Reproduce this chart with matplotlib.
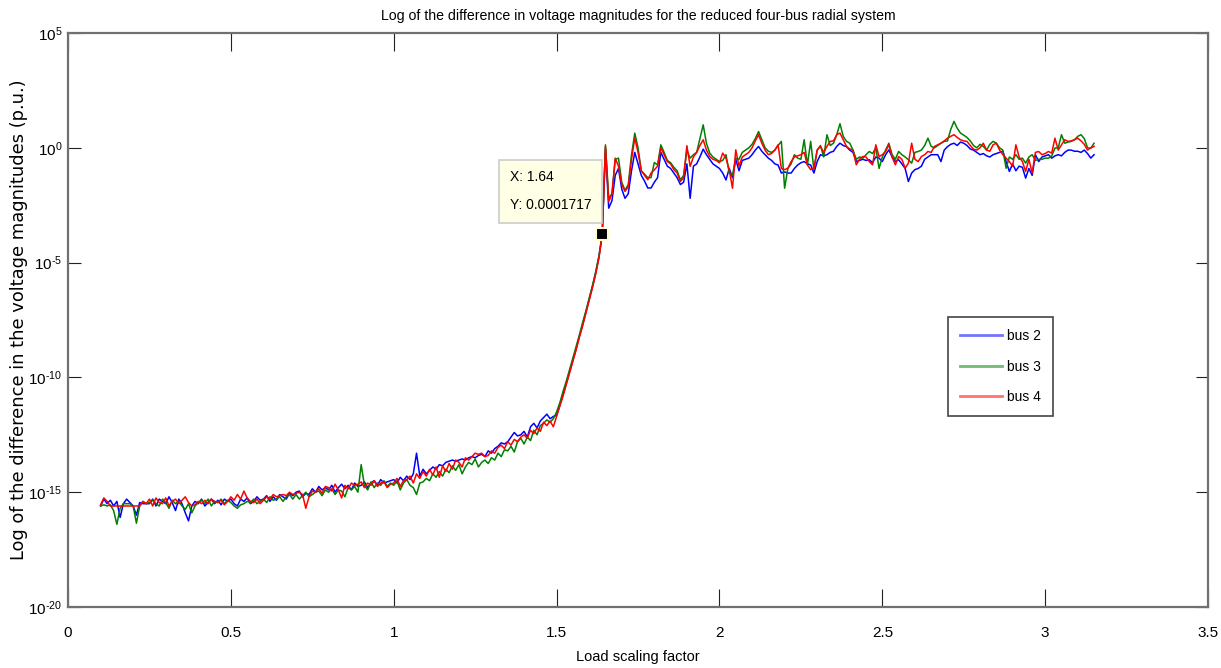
import numpy as np
import matplotlib
matplotlib.use('Agg')
import matplotlib.pyplot as plt

plt.rcParams['font.family'] = ['Liberation Sans', 'DejaVu Sans']
plt.rcParams['mathtext.default'] = 'regular'
plt.rcParams['axes.unicode_minus'] = False

# log10 of the voltage difference, sampled every 0.01 from load factor 0.10 to 3.15
bus2_log = [
    -15.6, -15.3, -15.5, -15.35, -15.6, -15.4, -16.1, -15.5, -15.3, -15.45,
    -15.6, -16.0, -15.45, -15.5, -15.5, -15.5, -15.3, -15.6, -15.3, -15.4,
    -15.5, -15.2, -15.45, -15.8, -15.3, -15.5, -15.9, -16.25, -15.6, -15.4,
    -15.5, -15.3, -15.6, -15.45, -15.3, -15.5, -15.35, -15.55, -15.3, -15.4,
    -15.3, -15.5, -15.6, -15.3, -15.4, -15.25, -15.5, -15.4, -15.2, -15.35,
    -15.3, -15.15, -15.4, -15.2, -15.35, -15.1, -15.2, -15.3, -15.05, -15.15,
    -15.0, -14.95, -15.2, -15.05, -15.1, -14.85, -15.0, -14.75, -14.9, -14.8,
    -14.9, -14.7, -15.0, -14.8, -14.65, -14.85, -14.7, -14.9, -14.6, -14.75,
    -14.7, -14.55, -14.8, -14.6, -14.5, -14.7, -14.45, -14.6, -14.55, -14.5,
    -14.45, -14.6, -14.35, -14.5, -14.3, -14.45, -14.2, -13.3, -14.3, -14.0,
    -14.2, -14.05, -13.9, -14.0, -13.8, -13.85, -13.7, -13.65, -13.6, -13.65,
    -13.6, -13.55, -13.6, -13.5, -13.45, -13.5, -13.4, -13.35, -13.45, -13.2,
    -13.3, -13.1, -13.0, -12.85, -12.9, -12.8, -12.6, -12.4, -12.55, -12.5,
    -12.35, -12.6, -12.15, -12.0, -12.2, -11.9, -11.75, -11.6, -11.8, -11.7,
    -11.65, -11.2, -10.75, -10.25, -9.75, -9.25, -8.75, -8.2, -7.7, -7.15,
    -6.6, -6.05, -5.45, -4.75, -3.8,
    -0.05, -2.63, -2.3, -1.2, -0.9, -1.8, -2.2, -2.0, -1.0, -0.2,
    -0.7, -1.2, -1.45, -1.75, -1.75, -1.5, -1.3, -0.2, -0.5, -0.8,
    -0.9, -1.1, -1.3, -1.6, -1.5, -0.7, -2.2, -0.8, -0.7, -0.4,
    -0.06, -0.3, -0.5, -0.7, -0.8, -0.9, -1.1, -1.4, -0.9, -1.3,
    -0.5, -1.0, -0.55, -0.5, -0.45, -0.3, -0.1, 0.06, -0.15, -0.3,
    -0.45, -0.55, -0.7, -0.75, -1.1, -1.05, -1.1, -1.1, -0.9, -0.75,
    -0.65, -0.6, -0.7, -0.75, -1.1, -0.6, -0.3, -0.35, -0.3, -0.2,
    -0.15, 0.06, 0.2, 0.1, 0.05, -0.1, -0.2, -0.6, -0.55, -0.5,
    -0.55, -0.52, -0.65, -0.4, -0.45, -0.6, -0.3, -0.09, -0.4, -0.6,
    -0.52, -0.7, -0.9, -1.47, -1.1, -0.95, -0.9, -0.8, -0.5, -0.4,
    -0.3, -0.3, -0.3, -0.6, -0.1, 0.05, 0.15, 0.2, 0.1, 0.25,
    0.2, 0.1, -0.05, -0.1, -0.2, -0.3, -0.25, -0.35, -0.4, -0.3,
    -0.25, -0.2, -0.15, -0.6, -1.03, -0.7, -1.0, -0.8, -0.85, -1.32,
    -0.9, -1.2, -0.3, -0.6, -0.4, -0.35, -0.3, -0.45, -0.35, -0.3,
    -0.35, -0.2, -0.1, -0.1, -0.15, -0.15, -0.2, -0.1, -0.25, -0.45,
    -0.3,
]

bus3_log = [
    -15.6, -15.55, -15.6, -15.55, -15.8, -16.4, -15.7, -15.5, -15.5, -15.5,
    -15.6, -16.35, -15.6, -15.4, -15.5, -15.45, -15.35, -15.5, -15.6, -15.3,
    -15.45, -15.7, -15.35, -15.5, -15.4, -15.6, -15.75, -15.5, -15.9, -15.6,
    -15.45, -15.35, -15.5, -15.3, -15.6, -15.4, -15.45, -15.3, -15.5, -15.35,
    -15.45, -15.6, -15.7, -15.55, -15.5, -15.4, -15.45, -15.3, -15.5, -15.4,
    -15.3, -15.45, -15.2, -15.35, -15.3, -15.2, -15.4, -15.2, -15.1, -15.3,
    -15.1, -15.3, -15.15, -15.0, -15.2, -15.1, -15.0, -14.95, -15.15, -14.9,
    -15.0, -14.85, -15.1, -14.9, -14.95, -15.2, -14.8, -14.9, -14.75, -15.0,
    -13.8, -14.7, -14.9, -14.55, -14.8, -14.6, -14.7, -14.5, -14.75, -14.6,
    -14.7, -14.5, -14.9, -14.6, -14.45, -14.7, -14.8, -15.1, -14.6, -14.55,
    -14.4, -14.5, -14.2, -14.35, -14.1, -14.3, -14.0, -14.15, -13.85, -14.05,
    -13.8, -14.2, -13.9, -13.7, -13.8, -13.55, -13.9, -13.7, -13.6, -13.75,
    -13.5, -13.6, -13.3, -13.45, -13.15, -13.2, -13.0, -13.25, -12.8, -12.65,
    -12.9, -12.6, -12.75, -12.3, -12.5, -12.1, -12.0, -11.85, -11.95, -11.8,
    -11.5, -11.1, -10.6, -10.15, -9.65, -9.15, -8.65, -8.15, -7.6, -7.1,
    -6.55, -6.0, -5.4, -4.7, -3.77,
    0.13, -2.2, -2.0, -0.5, -0.45, -1.5, -1.85, -1.6, -0.3, 0.64,
    0.0, -1.0, -1.15, -1.3, -1.3, -0.64, -0.75, 0.13, -0.2, -0.55,
    -0.65, -0.85, -1.0, -1.4, -1.2, -0.1, -0.45, -0.3, -0.2, 0.4,
    1.0, 0.2, -0.23, -0.4, -0.5, -0.6, -0.55, -0.3, -1.1, -1.2,
    -0.45, -0.5, -0.2, -0.1, 0.0, 0.15, 0.4, 0.71, 0.35, 0.0,
    -0.15, -0.2, -0.1, 0.1, 0.28, -1.76, -0.9, -0.7, -0.3, -0.45,
    -0.5, 0.35, -0.75, 0.28, -0.95, -0.1, 0.1, -0.4, 0.57, 0.1,
    0.2, 0.57, 1.05, 0.5, 0.28, 0.2, -0.1, -0.5, -0.4, -0.45,
    -0.3, -0.16, -0.25, 0.0, -0.9, -0.4, -0.1, 0.2, -0.3, -0.5,
    -0.16, -0.3, -0.4, -0.52, -0.67, -0.2, -0.16, -0.1, 0.1, 0.42,
    0.06, 0.0, 0.1, 0.2, 0.28, 0.3, 0.8, 1.15, 0.85, 0.64,
    0.55, 0.45, 0.3, 0.1, 0.0, 0.15, 0.06, -0.1, 0.15, 0.28,
    0.2, 0.0, -0.1, -0.89, -0.4, -0.5, -0.3, -0.5, -0.45, -0.67,
    -0.4, -0.3, -0.55, -0.5, -0.5, -0.45, -0.45, -0.35, -0.01, 0.0,
    0.57, 0.2, 0.25, 0.28, 0.35, 0.5, 0.57, 0.4, 0.0, -0.02,
    0.2,
]

bus4_log = [
    -15.55, -15.25, -15.4, -15.6, -15.6, -15.6, -15.6, -15.6, -15.6, -15.6,
    -15.6, -15.6, -15.6, -15.4, -15.5, -15.3, -15.6, -15.25, -15.45, -15.5,
    -15.25, -15.6, -15.4, -15.3, -15.5, -15.35, -15.2, -15.45, -15.6, -15.55,
    -15.4, -15.5, -15.35, -15.5, -15.3, -15.4, -15.45, -15.35, -15.55, -15.4,
    -15.2, -15.35, -15.1, -15.3, -14.95, -15.25, -15.4, -15.45, -15.3, -15.5,
    -15.35, -15.2, -15.3, -15.1, -15.2, -15.15, -15.1, -15.15, -15.0, -15.1,
    -15.05, -15.0, -15.1, -15.7, -15.2, -14.95, -15.0, -14.85, -15.05, -14.75,
    -14.8, -14.95, -14.65, -14.9, -15.25, -14.7, -14.85, -14.6, -14.7, -14.65,
    -14.55, -14.8, -14.6, -14.7, -14.5, -14.75, -14.6, -14.55, -14.8, -14.65,
    -14.6, -14.4, -14.75, -14.5, -14.45, -14.3, -14.6, -14.2, -14.4, -14.1,
    -14.3, -14.0, -14.25, -13.9, -14.35, -13.85, -14.1, -13.75, -14.0, -13.6,
    -13.7, -13.9, -13.5, -13.6, -13.45, -13.3, -13.35, -13.3, -13.45, -13.4,
    -13.2, -13.3, -13.05, -12.95, -13.1, -12.8, -12.95, -12.7, -12.8, -12.6,
    -12.5, -12.65, -12.3, -12.45, -12.2, -12.35, -11.95, -12.1, -11.9, -12.15,
    -11.7, -11.25, -10.8, -10.3, -9.8, -9.3, -8.8, -8.25, -7.75, -7.2,
    -6.65, -6.1, -5.5, -4.8, -3.7653,
    0.06, -2.34, -2.0, -0.45, -0.8, -1.6, -1.9, -1.7, -0.5, 0.42,
    -0.2, -1.0, -1.2, -1.39, -1.1, -0.96, -0.8, 0.0, -0.3, -0.6,
    -0.7, -0.95, -1.1, -1.47, -1.3, 0.09, -0.81, -0.4, -0.2, 0.1,
    0.35, -0.1, -0.38, -0.5, -0.55, -0.65, -0.23, -0.45, -0.96, -1.76,
    -0.09, -0.8, -0.4, -0.3, -0.2, 0.0, 0.3, 0.57, 0.2, -0.1,
    -0.3, -0.25, -0.1, 0.13, -0.9, -0.95, -0.89, -0.6, -0.4, -0.35,
    -0.3, -0.2, -0.75, -0.95, -0.9, -0.1, 0.06, -0.2, 0.06, 0.28,
    0.3, 0.57, 0.64, 0.35, 0.06, -0.05, -0.1, -0.74, -0.5, -0.38,
    -0.4, -0.6, -0.74, 0.13, -0.38, -0.3, -0.16, 0.13, -0.4, -0.74,
    -0.38, -0.5, -0.89, -0.67, 0.2, -0.5, -0.6, -0.38, -0.3, -0.16,
    -0.2, 0.06, 0.13, 0.2, 0.3, 0.42, 0.5, 0.57, 0.45, 0.35,
    0.3, 0.28, 0.1, -0.06, -0.1, 0.0, 0.2, -0.1, -0.15, 0.13,
    0.2, -0.1, -0.3, -0.45, -0.6, -0.8, 0.13, -0.4, -0.6, -1.03,
    -0.5, -1.1, -0.2, -0.16, -0.3, -0.25, -0.16, -0.23, 0.42, -0.1,
    0.13, 0.35, 0.28, 0.3, 0.35, 0.42, 0.3, 0.15, -0.1, 0.0,
    0.06,
]

x_start, x_step = 0.10, 0.01
labels = ['bus 2', 'bus 3', 'bus 4']
colors = ['#0000ff', '#008000', '#ff0000']
x_ticks = [0, 0.5, 1, 1.5, 2, 2.5, 3, 3.5]
x_ticklabels = ['0', '0.5', '1', '1.5', '2', '2.5', '3', '3.5']
y_exponents = [-20, -15, -10, -5, 0, 5]
tip_x, tip_y = 1.64, 0.0001717

fig = plt.figure(figsize=(12.21, 6.68), dpi=100)
ax = fig.add_axes([0.0557, 0.0913, 0.9337, 0.8593])

for vals, lab, col in zip([bus2_log, bus3_log, bus4_log], labels, colors):
    xs = np.round(x_start + x_step * np.arange(len(vals)), 2)
    ax.semilogy(xs, 10.0 ** np.array(vals), color=col, lw=1.1, label=lab)

ax.set_xlim(0, 3.5)
ax.set_ylim(1e-20, 1e5)
ax.set_xticks(x_ticks)
ax.set_xticklabels(x_ticklabels)
ax.set_yticks([10.0 ** e for e in y_exponents])
# MATLAB shows a plain hyphen in the exponent
ax.set_yticklabels(['$10^{%s}$' % str(e).replace('-', '\u2010') for e in y_exponents])
ax.minorticks_off()
ax.tick_params(axis='x', which='major', direction='in', length=13, width=0.8,
               top=True, labelsize=11, pad=14, color='#222222')
ax.tick_params(axis='y', which='major', direction='in', length=9, width=0.8,
               right=True, labelsize=11, pad=4, color='#222222')
for s in ax.spines.values():
    s.set_color('#707070')
    s.set_linewidth(1.6)

ax.set_title('Log of the difference in voltage magnitudes for the reduced four-bus radial system',
             fontsize=10.2, pad=9)
ax.set_xlabel('Load scaling factor', fontsize=10.5, labelpad=7)
ax.set_ylabel('Log of the difference in the voltage magnitudes (p.u.)',
              fontsize=12.9, family=['DejaVu Sans'])
ax.yaxis.set_label_coords(-0.035, 0.5)

leg = ax.legend(loc='upper left', bbox_to_anchor=(0.772, 0.505), borderaxespad=0,
                fancybox=False, framealpha=1, edgecolor='#444444', fontsize=10,
                handlelength=3.0, labelspacing=1.2, borderpad=0.85, handletextpad=0.4)
leg.get_frame().set_linewidth(1.2)
for h in leg.get_lines():
    h.set_linewidth(2.0)
    h.set_alpha(0.55)

# data tip
ax.plot([tip_x], [tip_y], 's', color='black', ms=8, mec='#ffffcc', mew=1.5, zorder=5)
ax.annotate('X: 1.64\nY: 0.0001717', xy=(tip_x, tip_y), xycoords='data',
            xytext=(-11, 22), textcoords='offset pixels', ha='right', va='bottom',
            multialignment='left', fontsize=10, linespacing=2.3,
            bbox=dict(boxstyle='square,pad=0.75', fc='#ffffe6', ec='#cccccc', lw=1.2),
            zorder=6)

fig.savefig('out.png', dpi=100)
